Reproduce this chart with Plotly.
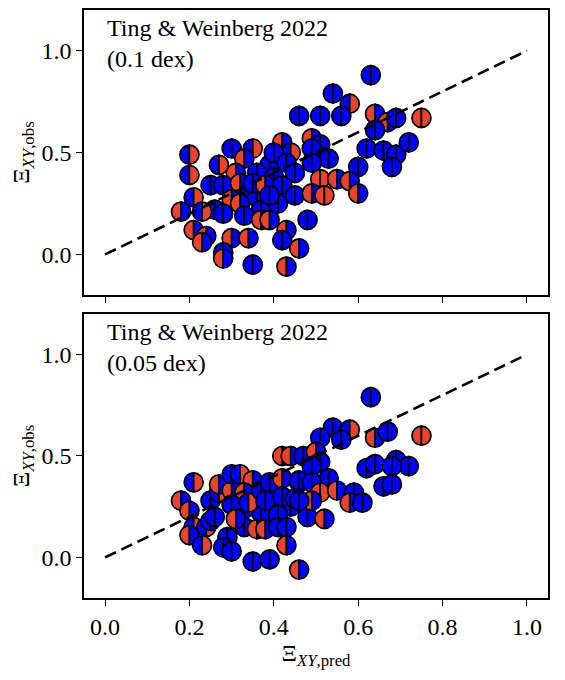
import plotly.graph_objects as go
from plotly.subplots import make_subplots

# top panel: Ting & Weinberg 2022 (0.1 dex)
# halves = left colour + right colour, B = blue, R = red
top_x = [0.20, 0.20, 0.27, 0.30, 0.35, 0.33, 0.39, 0.42, 0.44, 0.40,
         0.36, 0.33, 0.36, 0.40, 0.31, 0.26, 0.43, 0.37,
         0.25, 0.28, 0.32, 0.35, 0.38, 0.42, 0.45, 0.21, 0.18, 0.23,
         0.30, 0.32, 0.28, 0.33, 0.37, 0.39, 0.41, 0.39, 0.21, 0.24,
         0.23, 0.30, 0.34, 0.43, 0.42, 0.28, 0.28, 0.35, 0.43, 0.46,
         0.63, 0.54, 0.58, 0.46, 0.51, 0.56, 0.64, 0.67, 0.69, 0.75,
         0.64, 0.49, 0.51, 0.49, 0.62, 0.66, 0.69, 0.72, 0.53, 0.49,
         0.60, 0.68, 0.51, 0.55, 0.58, 0.45, 0.49, 0.52, 0.60, 0.48]
top_y = [0.49, 0.39, 0.44, 0.52, 0.52, 0.47, 0.44, 0.55, 0.50, 0.50,
         0.40, 0.30, 0.28, 0.38, 0.40, 0.22, 0.45, 0.22,
         0.34, 0.34, 0.35, 0.35, 0.34, 0.34, 0.40, 0.28, 0.21, 0.21,
         0.27, 0.25, 0.20, 0.19, 0.17, 0.17, 0.25, 0.29, 0.12, 0.09,
         0.06, 0.08, 0.08, 0.12, 0.07, 0.01, -0.02, -0.05, -0.06, 0.03,
         0.88, 0.79, 0.74, 0.68, 0.68, 0.68, 0.69, 0.65, 0.67, 0.67,
         0.61, 0.57, 0.54, 0.52, 0.52, 0.51, 0.49, 0.55, 0.47, 0.45,
         0.43, 0.43, 0.37, 0.37, 0.36, 0.29, 0.30, 0.29, 0.30, 0.17]
top_halves = ["BR", "BR", "BR", "BB", "BR", "RB", "BB", "RB", "BR", "BB",
              "BB", "BB", "BB", "BB", "RB", "BB", "BB", "BB",
              "BB", "BB", "RB", "BB", "RB", "BB", "BB", "BR", "RB", "BR",
              "RB", "RB", "BB", "BB", "RB", "RB", "BB", "BB", "RB", "RB",
              "RB", "RB", "RB", "RB", "BB", "BB", "RB", "BB", "RB", "RB",
              "BB", "BB", "BR", "BB", "BB", "BB", "RB", "RB", "BB", "RR",
              "BB", "RB", "BB", "BB", "BB", "BB", "BB", "BB", "BB", "BB",
              "BB", "BB", "RR", "RB", "RB", "BB", "RB", "RR", "RB", "BB"]

# bottom panel: Ting & Weinberg 2022 (0.05 dex)
bot_x = [0.21, 0.18, 0.20, 0.21, 0.20, 0.24, 0.23, 0.25, 0.27, 0.27,
         0.33, 0.37, 0.40, 0.30, 0.44, 0.25, 0.34,
         0.30, 0.32, 0.35, 0.33, 0.30, 0.34, 0.37, 0.38, 0.39, 0.42,
         0.44, 0.47, 0.42, 0.46, 0.42, 0.45, 0.48, 0.41, 0.33, 0.31,
         0.36, 0.38, 0.41, 0.43, 0.29, 0.28, 0.30, 0.43, 0.35, 0.39,
         0.46, 0.26, 0.63, 0.54, 0.58, 0.51, 0.56, 0.64, 0.67, 0.75,
         0.50, 0.51, 0.49, 0.62, 0.64, 0.69, 0.72, 0.68, 0.66, 0.68,
         0.53, 0.46, 0.49, 0.51, 0.55, 0.59, 0.58, 0.61, 0.49, 0.46,
         0.52]
bot_y = [0.37, 0.28, 0.23, 0.15, 0.11, 0.15, 0.06, 0.28, 0.32, 0.36,
         0.24, 0.22, 0.30, 0.33, 0.25, 0.18, 0.33,
         0.41, 0.41, 0.38, 0.32, 0.26, 0.27, 0.33, 0.28, 0.37, 0.50,
         0.50, 0.50, 0.39, 0.37, 0.30, 0.29, 0.20, 0.21, 0.15, 0.19,
         0.14, 0.14, 0.15, 0.15, 0.10, 0.05, 0.03, 0.06, -0.02, -0.01,
         -0.06, 0.20, 0.79, 0.64, 0.63, 0.59, 0.58, 0.59, 0.62, 0.60,
         0.52, 0.47, 0.45, 0.44, 0.46, 0.48, 0.45, 0.45, 0.35, 0.36,
         0.39, 0.38, 0.37, 0.32, 0.33, 0.32, 0.27, 0.27, 0.28, 0.28,
         0.19]
bot_halves = ["BR", "RB", "RB", "BR", "RB", "BR", "BR", "BB", "BR", "RB",
              "BB", "BB", "BB", "RB", "BB", "BB", "BB",
              "BB", "BR", "RB", "RB", "BB", "BR", "BB", "BB", "BB", "RB",
              "RB", "BB", "RB", "BB", "BB", "BB", "BB", "BB", "BB", "RB",
              "RB", "RB", "BB", "BB", "BB", "BB", "BB", "RB", "BB", "BB",
              "RB", "BB", "BB", "BB", "BR", "BB", "BB", "RB", "BB", "RR",
              "RB", "BB", "BB", "BB", "BB", "BB", "BB", "BB", "BB", "BB",
              "BB", "BB", "BB", "RR", "RB", "BB", "RB", "BB", "RB", "BB",
              "RB"]

panel_labels = ["Ting & Weinberg 2022<br>(0.1 dex)",
                "Ting & Weinberg 2022<br>(0.05 dex)"]
one_to_one = [0.0, 1.0]

colours = {"B": "#0000ff", "R": "#e9432d"}
FONT = "Liberation Serif"
FS = 24
R = 9.5      # marker radius in px
K = 0.5523   # bezier constant for a quarter circle


def half_path(side):
    s = -1 if side == 0 else 1
    return (f"M 0,{R} C {s*K*R:.3f},{R} {s*R},{K*R:.3f} {s*R},0 "
            f"C {s*R},{-K*R:.3f} {s*K*R:.3f},{-R} 0,{-R} Z")


fig = make_subplots(rows=2, cols=1, shared_xaxes=True)

shapes = []
panels = [(top_x, top_y, top_halves), (bot_x, bot_y, bot_halves)]
for row, (xs, ys, halves) in enumerate(panels, start=1):
    xref = "x" if row == 1 else "x2"
    yref = "y" if row == 1 else "y2"
    # split circles drawn as pixel-sized paths anchored on the data points
    for x, y, h in zip(xs, ys, halves):
        for side in (0, 1):
            shapes.append(dict(
                type="path", xref=xref, yref=yref,
                xsizemode="pixel", ysizemode="pixel",
                xanchor=x, yanchor=y, path=half_path(side),
                fillcolor=colours[h[side]],
                line=dict(color="black", width=1.7),
                layer="below"))
    fig.add_trace(go.Scatter(
        x=xs, y=ys, mode="markers",
        marker=dict(size=2 * R, color="rgba(0,0,0,0)"),
        showlegend=False, hoverinfo="x+y"), row=row, col=1)
    fig.add_trace(go.Scatter(
        x=one_to_one, y=one_to_one, mode="lines",
        line=dict(color="black", width=2.6, dash="12px,6px"),
        showlegend=False, hoverinfo="skip"), row=row, col=1)
    fig.add_annotation(
        text=panel_labels[row - 1], xref=f"{xref} domain", yref=f"{yref} domain",
        x=0.045, y=0.99, xanchor="left", yanchor="top", showarrow=False,
        align="left", font=dict(family=FONT, size=FS, color="black"))

axis_style = dict(showline=True, linecolor="black", linewidth=1.6, mirror=True,
                  ticks="outside", ticklen=6, tickwidth=1.4, tickcolor="black",
                  showgrid=False, zeroline=False,
                  tickfont=dict(family=FONT, size=FS, color="black"))

fig.update_xaxes(range=[-0.05, 1.05], tickvals=[0, 0.2, 0.4, 0.6, 0.8, 1.0],
                 tickformat=".1f", **axis_style)
fig.update_xaxes(showticklabels=False, row=1, col=1)
fig.update_xaxes(title=dict(text="Ξ<sub><i>XY</i>,pred</sub>", standoff=6,
                            font=dict(family=FONT, size=FS, color="black")),
                 row=2, col=1)
fig.update_yaxes(range=[-0.2, 1.2], tickvals=[0, 0.5, 1.0], tickformat=".1f",
                 title=dict(text="Ξ<sub><i>XY</i>,obs</sub>", standoff=14,
                            font=dict(family=FONT, size=FS, color="black")),
                 **axis_style)

# the page adds an 8px body margin, so the plot area is shifted back by that
fig.update_layout(
    width=565, height=680,
    margin=dict(l=76, r=25, t=0, b=90),
    plot_bgcolor="white", paper_bgcolor="white",
    shapes=shapes,
    yaxis=dict(domain=[0.515, 1.0]),
    yaxis2=dict(domain=[0.0, 0.483]),
)

fig.write_html("out.html")
